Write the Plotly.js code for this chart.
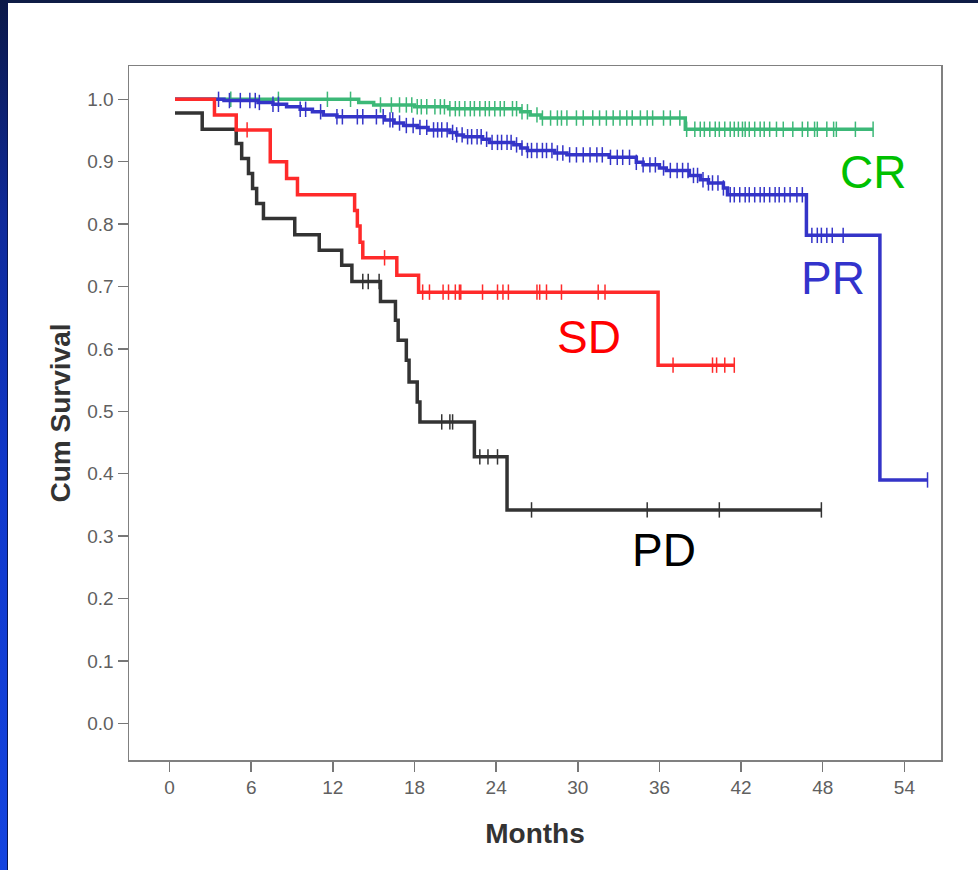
<!DOCTYPE html>
<html>
<head>
<meta charset="utf-8">
<script src="https://cdn.plot.ly/plotly-3.0.1.min.js"></script>
<style>
  html, body { margin: 0; padding: 0; background: #ffffff; }
  #wrap { position: relative; width: 978px; height: 870px; overflow: hidden; background: #ffffff; }
  #chart { position: absolute; left: 0; top: 0; width: 978px; height: 870px; }
  #edgeTop { position: absolute; left: 0; top: 0; width: 978px; height: 3px; background: #0e1c46; }
  #edgeLeft { position: absolute; left: 0; top: 0; width: 8px; height: 870px;
    background: linear-gradient(to bottom, #0b1848 0%, #0f2a9a 25%, #1038cc 55%, #1444e0 100%);
    border-right: 1px solid #0a1650; box-sizing: border-box; }
</style>
</head>
<body>
<div id="wrap">
  <div id="chart"></div>
  <div id="edgeTop"></div>
  <div id="edgeLeft"></div>
</div>
<script>
// Kaplan-Meier survival by response group (months)

// CR: complete response
const crTimes = [0.4, 13.9, 15.0, 18.0, 20.5, 25.8, 26.5, 27.3, 37.9];
const crSurv  = [1.000, 0.995, 0.991, 0.988, 0.985, 0.980, 0.975, 0.970, 0.952];
const crEnd = 51.7;
const crCensor = [4.5, 8.0, 11.6, 13.3, 15.5, 16.3,
  16.9, 17.4, 17.8, 18.2, 18.5, 18.9, 19.5, 19.9, 20.2, 20.6, 21.0, 21.3, 21.7, 22.1,
  22.4, 22.8, 23.2, 23.5, 23.9, 24.3, 24.6, 25.2, 25.5, 25.9, 26.3, 27.0, 27.4, 28.0,
  28.5, 28.8, 29.2, 29.9, 30.4, 31.1, 31.6, 32.1, 32.6, 33.1, 33.6, 34.0, 34.6, 35.1,
  35.5, 36.3, 36.8, 37.5, 38.0, 38.6, 39.0, 39.3, 39.7, 40.1, 40.4, 40.8, 41.2, 41.5,
  41.8, 42.1, 42.3, 42.6, 43.0, 43.4, 43.7, 44.1, 44.6, 45.1, 45.8, 46.5, 46.9, 47.4,
  47.6, 48.3, 48.8, 49.0, 50.4, 51.7];

// PR: partial response
const prTimes = [0.4, 4.0, 6.5, 7.6, 8.6, 9.6, 10.5, 11.3, 12.3, 15.8, 16.5, 17.2, 18.2,
  19.0, 20.6, 21.1, 21.6, 23.0, 23.5, 25.3, 25.8, 26.3, 28.3, 29.2, 32.3, 34.3, 34.8,
  36.0, 36.5, 38.2, 39.0, 39.6, 40.7, 41.0, 46.8, 52.2];
const prSurv  = [1.000, 0.998, 0.995, 0.992, 0.988, 0.984, 0.980, 0.975, 0.972, 0.967,
  0.962, 0.958, 0.955, 0.951, 0.947, 0.943, 0.940, 0.936, 0.931, 0.927, 0.922, 0.918,
  0.914, 0.911, 0.907, 0.899, 0.895, 0.890, 0.886, 0.878, 0.871, 0.866, 0.858, 0.847,
  0.782, 0.390];
const prEnd = 55.7;
const prCensor = [3.6, 4.4, 5.2, 5.9, 6.3, 6.6, 7.6, 8.0, 9.6, 10.0, 11.1, 12.3, 12.7,
  13.8, 14.2, 15.2, 15.7, 16.2, 16.4, 16.9, 17.4, 17.9, 18.4, 18.9, 19.4,
  19.7, 20.0, 20.4, 20.8, 21.1, 21.5, 21.9, 22.2, 22.6, 22.9, 23.3, 23.7, 24.1, 24.4,
  24.8, 25.1, 25.5, 25.9, 26.3, 26.6, 27.0, 27.4, 27.7, 28.1, 28.5, 28.9, 29.4, 29.9,
  30.4, 30.9, 31.4, 31.8, 32.4, 32.9, 33.3, 33.8, 34.3, 34.8, 35.3, 35.7, 36.3, 36.8,
  37.3, 37.7, 38.1, 38.5, 38.8, 39.2, 39.6, 39.9, 40.3, 40.7, 41.2, 41.5, 41.9, 42.3,
  42.6, 43.0, 43.4, 43.7, 44.1, 44.5, 44.8, 45.2, 45.6, 46.1, 46.5, 47.2, 47.6, 47.9,
  48.3, 48.7, 49.5, 55.7];

// SD: stable disease
const sdTimes = [0.4, 3.3, 4.9, 7.4, 8.6, 9.4, 13.6, 13.8, 14.0, 14.2, 16.7, 18.3, 35.9];
const sdSurv  = [1.000, 0.975, 0.951, 0.900, 0.873, 0.847, 0.822, 0.797, 0.771, 0.746,
  0.718, 0.691, 0.574];
const sdEnd = 41.5;
const sdCensor = [5.7, 15.8, 18.6, 19.1, 20.1, 20.5, 21.0, 21.3, 21.4, 23.0, 24.1, 24.5,
  24.9, 27.0, 27.2, 27.7, 28.8, 31.5, 32.0, 37.0, 39.9, 40.2, 40.8, 41.5];

// PD: progressive disease
const pdTimes = [0.4, 2.4, 4.9, 5.3, 5.8, 6.1, 6.4, 6.9, 9.2, 11.0, 12.65, 13.4, 15.5,
  16.6, 16.8, 17.4, 17.6, 18.2, 18.4, 22.4, 24.8];
const pdSurv  = [0.978, 0.952, 0.929, 0.905, 0.881, 0.857, 0.833, 0.809, 0.783, 0.758,
  0.734, 0.708, 0.676, 0.646, 0.614, 0.582, 0.547, 0.515, 0.483, 0.427, 0.342];
const pdEnd = 47.9;
const pdCensor = [14.2, 14.6, 15.4, 20.0, 20.6, 20.8, 22.8, 23.4, 24.1, 26.6, 35.1, 40.4, 47.9];

// axis ticks
const monthTicks = [0, 6, 12, 18, 24, 30, 36, 42, 48, 54];
const survTicks = [0, 0.1, 0.2, 0.3, 0.4, 0.5, 0.6, 0.7, 0.8, 0.9, 1.0];

// group styling
const groups = [
  { name: 'CR', t: crTimes, s: crSurv, end: crEnd, c: crCensor, color: '#3cb878', label: '#00c000', lx: 51.7, ly: 0.884 },
  { name: 'PR', t: prTimes, s: prSurv, end: prEnd, c: prCensor, color: '#3434c8', label: '#3333cc', lx: 48.75, ly: 0.714 },
  { name: 'PD', t: pdTimes, s: pdSurv, end: pdEnd, c: pdCensor, color: '#333333', label: '#000000', lx: 36.3, ly: 0.278 },
  { name: 'SD', t: sdTimes, s: sdSurv, end: sdEnd, c: sdCensor, color: '#ff2a2a', label: '#ff0000', lx: 30.8, ly: 0.619 }
];

// survival value of a step curve at time t
function survAt(times, surv, t) {
  let v = surv[0];
  for (let i = 0; i < times.length; i++) {
    if (times[i] <= t + 1e-9) v = surv[i];
  }
  return v;
}

const traces = [];
groups.forEach(g => {
  traces.push({
    type: 'scatter', mode: 'lines', name: g.name,
    x: g.t.concat([g.end]),
    y: g.s.concat([g.s[g.s.length - 1]]),
    line: { shape: 'hv', color: g.color, width: 3.5 },
    hoverinfo: 'skip', showlegend: false
  });
  traces.push({
    type: 'scatter', mode: 'markers', name: g.name + ' censored',
    x: g.c,
    y: g.c.map(t => survAt(g.t, g.s, t)),
    marker: { symbol: 'line-ns', size: 11, color: g.color, line: { color: g.color, width: 1.5 } },
    hoverinfo: 'skip', showlegend: false
  });
});

const annotations = groups.map(g => ({
  x: g.lx, y: g.ly, xref: 'x', yref: 'y', text: g.name, showarrow: false,
  xanchor: 'center', yanchor: 'middle',
  font: { family: 'Liberation Sans, Arial, sans-serif', size: 46, color: g.label }
}));

const layout = {
  width: 978, height: 870,
  margin: { l: 129, r: 37, t: 66, b: 110 },
  paper_bgcolor: '#ffffff', plot_bgcolor: '#ffffff',
  showlegend: false,
  xaxis: {
    range: [-2.98, 56.69],
    tickvals: monthTicks, ticktext: monthTicks.map(String),
    ticks: 'outside', ticklen: 10, tickwidth: 1.5, tickcolor: '#777777',
    showline: true, mirror: true, linecolor: '#808080', linewidth: 1.5,
    showgrid: false, zeroline: false,
    tickfont: { family: 'Liberation Sans, Arial, sans-serif', size: 19, color: '#606060' },
    title: { text: 'Months', standoff: 26,
      font: { family: 'Liberation Sans, Arial, sans-serif', size: 28, color: '#333333', weight: 'bold' } }
  },
  yaxis: {
    range: [-0.0588, 1.0534],
    tickvals: survTicks, ticktext: survTicks.map(v => v.toFixed(1)),
    ticks: 'outside', ticklen: 10, tickwidth: 1.5, tickcolor: '#777777',
    showline: true, mirror: true, linecolor: '#808080', linewidth: 1.5,
    showgrid: false, zeroline: false,
    tickfont: { family: 'Liberation Sans, Arial, sans-serif', size: 19, color: '#606060' },
    title: { text: 'Cum Survival', standoff: 8,
      font: { family: 'Liberation Sans, Arial, sans-serif', size: 28, color: '#333333', weight: 'bold' } }
  },
  annotations: annotations
};

Plotly.newPlot('chart', traces, layout, { staticPlot: true, displayModeBar: false });
</script>
</body>
</html>
